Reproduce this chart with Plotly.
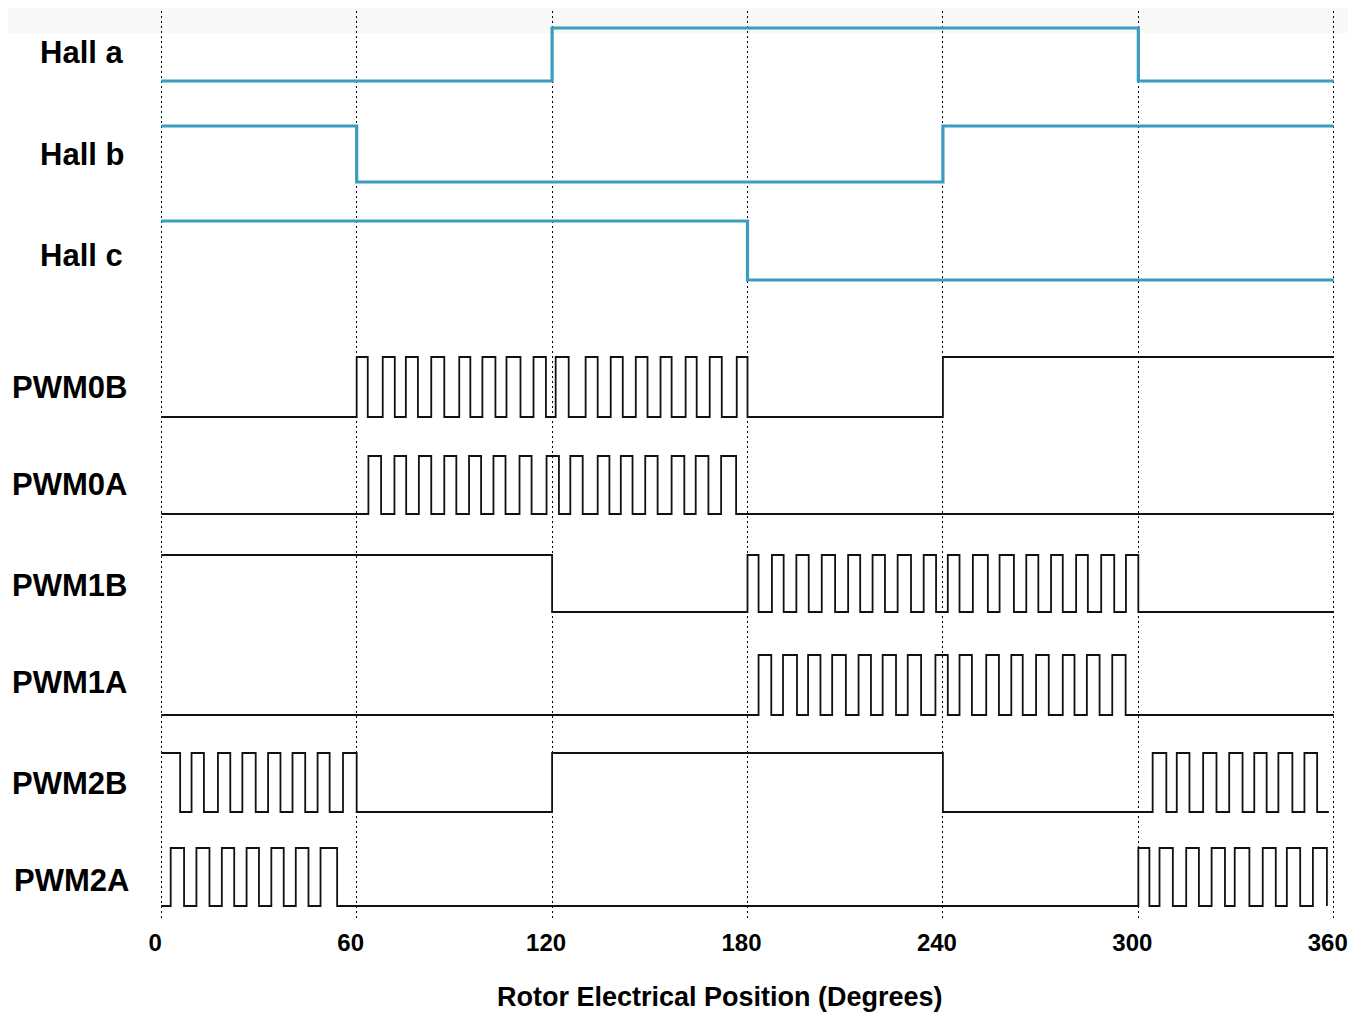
import plotly.graph_objects as go

# ---------------- data (degrees) ----------------
ROW_NAMES = ["Hall a", "Hall b", "Hall c", "PWM0B", "PWM0A", "PWM1B", "PWM1A", "PWM2B", "PWM2A"]

HALL_A_INIT = 0
HALL_A_EDGES = [120, 300]
HALL_A_END = 360

HALL_B_INIT = 1
HALL_B_EDGES = [60, 240]
HALL_B_END = 360

HALL_C_INIT = 1
HALL_C_EDGES = [180]
HALL_C_END = 360

PWM0B_INIT = 0
PWM0B_EDGES = [60, 63.4, 68.0, 71.7, 75.1, 78.8, 82.9, 86.9, 91.5, 94.9, 98.6, 102.6, 106.0, 110.3,
               114.3, 118.1, 121.1, 125.1, 130.3, 134.0, 138.0, 141.7, 145.7, 149.3, 153.3, 156.7,
               161.0, 164.4, 168.4, 172.1, 176.7, 180.0, 240]
PWM0B_END = 360

PWM0A_INIT = 0
PWM0A_EDGES = [63.6, 67.5, 71.6, 75.2, 79.1, 82.9, 86.9, 90.6, 94.5, 98.2, 102.0, 105.7, 110.0, 113.7,
               118.3, 122.1, 125.6, 129.4, 134.0, 137.6, 141.1, 144.7, 148.6, 152.4, 156.7, 160.6,
               164.1, 168.0, 171.9, 176.5]
PWM0A_END = 360

PWM1B_INIT = 1
PWM1B_EDGES = [120, 180, 183.4, 187.5, 191.1, 195.0, 198.8, 202.8, 206.9, 210.9, 214.6, 218.4, 222.2,
               226.1, 230.2, 234.1, 237.9, 241.5, 245.1, 249.2, 253.8, 257.4, 261.8, 265.6, 269.3,
               273.2, 276.8, 280.9, 284.5, 288.6, 292.6, 296.2, 300.0]
PWM1B_END = 360

PWM1A_INIT = 0
PWM1A_EDGES = [183.4, 187.3, 190.9, 195.2, 198.6, 202.4, 206.0, 210.2, 214.1, 217.9, 221.5, 225.6,
               229.2, 233.3, 237.7, 241.5, 245.1, 248.9, 253.3, 257.2, 261.0, 264.5, 268.6, 272.5,
               276.8, 280.4, 284.2, 288.1, 292.0, 296.1]
PWM1A_END = 360

PWM2B_INIT = 1
PWM2B_EDGES = [5.8, 9.3, 13.1, 17.4, 21.2, 24.9, 29.0, 32.8, 36.6, 40.3, 44.2, 48.0, 51.7, 55.8, 60.0,
               120, 240, 304.4, 308.6, 311.8, 315.7, 319.9, 324.0, 327.9, 332.0, 335.6, 339.4, 343.0,
               347.3, 351.0, 354.9]
PWM2B_END = 358.5

PWM2A_INIT = 0
PWM2A_EDGES = [2.9, 7.0, 10.8, 14.8, 18.6, 22.4, 26.2, 30.0, 33.8, 37.6, 41.3, 45.2, 48.9, 54.0,
               300.0, 303.4, 306.5, 310.6, 314.7, 318.6, 322.5, 326.6, 329.6, 334.1, 338.2, 342.2,
               345.6, 349.7, 353.6, 357.9]
PWM2A_END = 357.9

TICK_VALUES = [0, 60, 120, 180, 240, 300, 360]
TICK_LABELS = ["0", "60", "120", "180", "240", "300", "360"]
X_TITLE = "Rotor Electrical Position (Degrees)"

SIGNALS = [
    (HALL_A_INIT, HALL_A_EDGES, HALL_A_END),
    (HALL_B_INIT, HALL_B_EDGES, HALL_B_END),
    (HALL_C_INIT, HALL_C_EDGES, HALL_C_END),
    (PWM0B_INIT, PWM0B_EDGES, PWM0B_END),
    (PWM0A_INIT, PWM0A_EDGES, PWM0A_END),
    (PWM1B_INIT, PWM1B_EDGES, PWM1B_END),
    (PWM1A_INIT, PWM1A_EDGES, PWM1A_END),
    (PWM2B_INIT, PWM2B_EDGES, PWM2B_END),
    (PWM2A_INIT, PWM2A_EDGES, PWM2A_END),
]

# ---------------- layout (page pixels; page body has an 8px margin) ----------------
PAGE_W, PAGE_H = 1356, 1014
OFF = 8
W, H = PAGE_W - OFF, PAGE_H - OFF
X0_PX = 161.0 - OFF
PX_PER_DEG = 1172.3 / 360.0
XR = [-1, 361]
ML = X0_PX + XR[0] * PX_PER_DEG
PLOT_W = (XR[1] - XR[0]) * PX_PER_DEG
MR = W - ML - PLOT_W
Y_TOP, Y_BOT = 11 - OFF, 921 - OFF
ROW_LOW_PX = [81, 182, 280, 417, 514, 612, 715, 812, 906]
ROW_HIGH_PX = [28, 126, 221, 357, 456, 555, 655, 753, 848]
LABEL_LEFT_PX = [38, 38, 38, 10, 10, 10, 10, 10, 12]
LABEL_MID_PX = [53, 154, 255, 387, 485, 585, 682, 783, 880]
HALL_COLOR = "#3a9cbf"
PWM_COLOR = "#111111"
FONT = "Liberation Sans, Arial, sans-serif"


def px_x(px):
    return (px - OFF - ML) / PLOT_W


def px_y(py):
    return (Y_BOT - (py - OFF)) / (Y_BOT - Y_TOP)


fig = go.Figure()

for i, (init, edges, end) in enumerate(SIGNALS):
    levels = [init]
    for _ in edges:
        levels.append(1 - levels[-1])
    xs = [0] + list(edges) + [end]
    lv = levels + [levels[-1]]
    lo, hi = ROW_LOW_PX[i] - OFF, ROW_HIGH_PX[i] - OFF
    ys = [lo + v * (hi - lo) for v in lv]
    is_hall = i < 3
    fig.add_trace(go.Scatter(
        x=xs, y=ys, mode="lines", line_shape="hv",
        line=dict(color=HALL_COLOR if is_hall else PWM_COLOR, width=3.2 if is_hall else 1.8),
        hoverinfo="skip", showlegend=False, cliponaxis=False,
    ))

for i, name in enumerate(ROW_NAMES):
    fig.add_annotation(
        x=px_x(LABEL_LEFT_PX[i]), y=px_y(LABEL_MID_PX[i]), xref="paper", yref="paper",
        text=name, showarrow=False, xanchor="left", yanchor="middle",
        font=dict(family=FONT, size=31, color="#000000", weight="bold"),
    )

fig.add_annotation(
    x=px_x(720), y=px_y(997), xref="paper", yref="paper", text=X_TITLE, showarrow=False,
    xanchor="center", yanchor="middle",
    font=dict(family=FONT, size=27, color="#000000", weight="bold"),
)

fig.add_shape(type="rect", xref="paper", yref="paper", x0=px_x(8), x1=px_x(PAGE_W), y0=px_y(0), y1=px_y(33),
              fillcolor="#f8f8f8", line_width=0, layer="below")

fig.update_layout(
    width=W, height=H,
    margin=dict(l=ML, r=MR, t=Y_TOP, b=H - Y_BOT, pad=0),
    paper_bgcolor="white", plot_bgcolor="white",
    showlegend=False, hovermode=False,
    xaxis=dict(
        range=XR, tickmode="array", tickvals=TICK_VALUES, ticktext=TICK_LABELS,
        showgrid=True, gridcolor="#000000", gridwidth=1.4, griddash="1.5px,3.5px",
        zeroline=False, showline=False, ticks="", ticklabelstandoff=5, ticklabelshift=-6,
        tickfont=dict(family=FONT, size=24, color="#000000", weight="bold"),
    ),
    yaxis=dict(range=[Y_BOT, Y_TOP], showgrid=False, zeroline=False, showline=False,
               showticklabels=False, ticks=""),
)

fig.write_html("out.html")
